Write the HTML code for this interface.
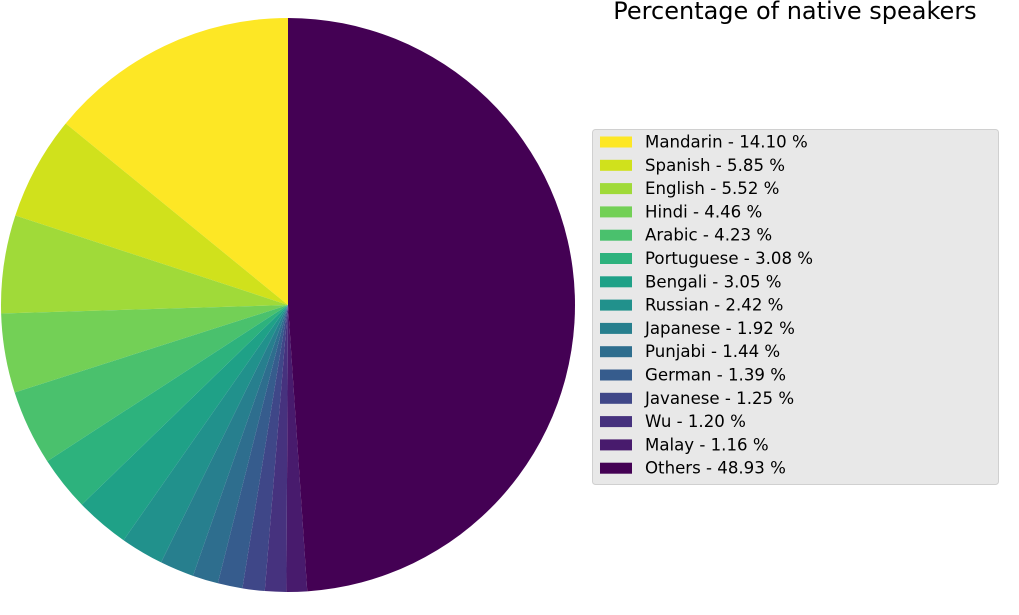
<!DOCTYPE html>
<html><head><meta charset="utf-8"><style>
body{margin:0;background:#fff;width:1019px;height:610px;overflow:hidden;font-family:"Liberation Sans","DejaVu Sans",sans-serif}
</style></head><body>
<svg id="chart" width="1019" height="610" xmlns="http://www.w3.org/2000/svg">
<text x="795" y="19" font-size="24" text-anchor="middle" font-family="DejaVu Sans, Liberation Sans, sans-serif" fill="#000">Percentage of native speakers</text>
<rect x="592.5" y="129.5" width="406" height="355" rx="3" fill="#e8e8e8" stroke="#d0d0d0"/>
<g id="slices"></g><g id="legend"></g>
</svg>
<script>
const categories=["Mandarin","Spanish","English","Hindi","Arabic","Portuguese","Bengali","Russian","Japanese","Punjabi","German","Javanese","Wu","Malay","Others"];
const values=[14.10,5.85,5.52,4.46,4.23,3.08,3.05,2.42,1.92,1.44,1.39,1.25,1.20,1.16,48.93];
const colors=["#fde725","#d0e11c","#a0da39","#73d056","#4ac16d","#2db27d","#1fa187","#21918c","#277f8e","#2e6e8e","#365c8d","#3f4788","#46327e","#481b6d","#440154"];
const NS="http://www.w3.org/2000/svg";
const cx=288,cy=305,r=287;
const total=values.reduce((a,b)=>a+b,0);
let a=90;
const sg=document.getElementById('slices');
values.forEach((v,i)=>{
  const a2=a+v/total*360;
  const t1=a*Math.PI/180,t2=a2*Math.PI/180;
  const x1=cx+r*Math.cos(t1),y1=cy-r*Math.sin(t1),x2=cx+r*Math.cos(t2),y2=cy-r*Math.sin(t2);
  const large=(a2-a)>180?1:0;
  const p=document.createElementNS(NS,'path');
  p.setAttribute('d',`M${cx},${cy}L${x1},${y1}A${r},${r} 0 ${large} 0 ${x2},${y2}Z`);
  p.setAttribute('fill',colors[i]);
  
  
  sg.appendChild(p);
  a=a2;
});
const lg=document.getElementById('legend');
categories.forEach((c,i)=>{
  const y=142+i*23.3;
  const g=document.createElementNS(NS,'g');
  
  
  const rc=document.createElementNS(NS,'rect');
  rc.setAttribute('x',600);rc.setAttribute('y',y-5.5);rc.setAttribute('width',32);rc.setAttribute('height',11);
  rc.setAttribute('fill',colors[i]);
  const tx=document.createElementNS(NS,'text');
  tx.setAttribute('x',645);tx.setAttribute('y',y+5.5);tx.setAttribute('font-size','16.6');
  tx.setAttribute('font-family','DejaVu Sans, Liberation Sans, sans-serif');
  tx.textContent=c+' - '+values[i].toFixed(2)+' %';
  g.appendChild(rc);g.appendChild(tx);lg.appendChild(g);
});
</script>
</body></html>
